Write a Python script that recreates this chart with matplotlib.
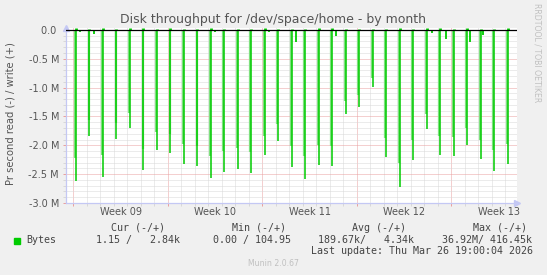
import matplotlib
matplotlib.use("Agg")
import matplotlib.pyplot as plt
from matplotlib.patches import Rectangle
from matplotlib.ticker import MultipleLocator
import numpy as np

# daily backup spikes: day index (days after first week boundary) and read depth (MB/s, negative side)
spike_day = [0, 1, 2, 3, 4, 5, 6, 7, 8, 9, 10, 11, 12, 13, 14, 15, 16,
             17, 18, 19, 20, 21, 22, 23, 24, 25, 26, 27, 28, 29, 30, 31, 32]
spike_read = [2.62, 1.84, 2.55, 1.89, 1.70, 2.43, 2.08, 2.13, 2.32, 2.36, 2.57,
              2.46, 2.41, 2.48, 2.17, 1.92, 2.37, 2.58, 2.34, 2.36, 1.45, 1.33,
              0.99, 2.21, 2.72, 2.25, 1.72, 2.17, 2.19, 1.99, 2.24, 2.44, 2.32]
spike_write = [0.03, 0.01, 0.03, 0.01, 0.03, 0.03, 0.02, 0.03, 0.02, 0.02, 0.03,
               0.02, 0.02, 0.02, 0.03, 0.01, 0.02, 0.02, 0.03, 0.03, 0.02, 0.02,
               0.01, 0.02, 0.03, 0.02, 0.03, 0.03, 0.02, 0.03, 0.02, 0.02, 0.03]
spike_hour = 4.5

# smaller read bursts during the day
dip_day = [0.50, 1.53, 10.5, 14.5, 16.53, 19.44, 26.55, 27.61, 29.4, 30.37]
dip_read = [0.04, 0.075, 0.03, 0.03, 0.21, 0.10, 0.06, 0.15, 0.21, 0.08]

week_names = ["Week 09", "Week 10", "Week 11", "Week 12", "Week 13"]
week_start = [0, 7, 14, 21, 28]

y_ticks = [0.0, -0.5, -1.0, -1.5, -2.0, -2.5, -3.0]
y_labels = ["0.0 ", "-0.5 M", "-1.0 M", "-1.5 M", "-2.0 M", "-2.5 M", "-3.0 M"]

W, H = 547, 275
green = "#00cc00"
light_green = "#7ee07e"
axis_col = "#c4c8f4"
major_col = "#eaa0a0"
minor_col = "#d8d8d8"

fig = plt.figure(figsize=(W / 100, H / 100), dpi=100, facecolor="#f0f0f0")
ax = fig.add_axes([66 / W, 1 - 203 / H, (517 - 66) / W, (203 - 28) / H])
ax.set_facecolor("white")

ax.set_xlim(-0.54, 32.87)
ax.set_ylim(-3.0, 0.033)

# grid
ax.xaxis.set_major_locator(MultipleLocator(7))
ax.xaxis.set_minor_locator(MultipleLocator(1))
ax.yaxis.set_minor_locator(MultipleLocator(0.1))
ax.set_yticks(y_ticks)
ax.set_yticklabels(y_labels)
ax.set_xticklabels([])
ax.grid(which="minor", color=minor_col, lw=0.72, ls=(0, (1, 1)))
ax.grid(which="major", color=major_col, lw=0.72, ls=(0, (1, 1)))
ax.set_axisbelow(True)

ax.tick_params(axis="both", which="major", length=2, width=0.72, color=major_col,
               labelsize=7, labelcolor="#555555")
ax.tick_params(axis="both", which="minor", length=2, width=0.72, color=minor_col)
ax.tick_params(axis="y", which="major", pad=3)

for s in ["top", "right"]:
    ax.spines[s].set_visible(False)
for s in ["left", "bottom"]:
    ax.spines[s].set_color(axis_col)
    ax.spines[s].set_linewidth(0.9)

# arrows at the axis ends
ax.plot([0], [1.0], marker="^", ms=5, color=axis_col, transform=ax.transAxes,
        clip_on=False, zorder=5)
ax.plot([1.0], [0], marker=">", ms=5, color=axis_col, transform=ax.transAxes,
        clip_on=False, zorder=5)

# data
sx = np.array(spike_day) + spike_hour / 24
sr = -np.array(spike_read)
ax.vlines(sx - 0.06, 0, sr * 0.85, color=light_green, lw=1.6, zorder=3)
ax.vlines(sx, 0, sr, color=green, lw=1.1, zorder=4)
ax.vlines(sx, 0, np.array(spike_write), color=green, lw=2.0, zorder=4)
ax.vlines(np.array(dip_day), 0, -np.array(dip_read), color=green, lw=1.3, zorder=4)
ax.axhline(0, color="black", lw=0.9, zorder=6)

# week labels
for name, start in zip(week_names, week_start):
    ax.text(start + 3.5, -0.05, name, transform=ax.get_xaxis_transform(),
            ha="center", va="center", fontsize=7, color="#555555")

# title and labels
fig.text(273 / W, 1 - 20 / H, "Disk throughput for /dev/space/home - by month",
         ha="center", va="center", fontsize=9, color="#555555")
fig.text(11 / W, 1 - 113.5 / H, "Pr second read (-) / write (+)", rotation=90,
         ha="center", va="center", fontsize=7.2, color="#555555")
fig.text(537 / W, 1 - 53 / H, "RRDTOOL / TOBI OETIKER", rotation=270,
         ha="center", va="center", fontsize=5.6, color="#c0c0c0")

# legend block
mono = dict(family="DejaVu Sans Mono", fontsize=7.2, color="#444444", va="center")
fig.add_artist(Rectangle((14 / W, 1 - 243.5 / H), 5.5 / W, 5.5 / H,
                         transform=fig.transFigure, color=green))
headers = ["Cur (-/+)", "Min (-/+)", "Avg (-/+)", "Max (-/+)"]
header_x = [111, 232.3, 352.3, 473]
values = ["1.15 /   2.84k", "0.00 / 104.95", "189.67k/   4.34k", "36.92M/ 416.45k"]
value_x = [95.7, 213.3, 318.3, 442.3]
for t, x in zip(headers, header_x):
    fig.text(x / W, 1 - 228 / H, t, ha="left", **mono)
fig.text(26.7 / W, 1 - 240 / H, "Bytes", ha="left", **mono)
for t, x in zip(values, value_x):
    fig.text(x / W, 1 - 240 / H, t, ha="left", **mono)
fig.text(533 / W, 1 - 251 / H, "Last update: Thu Mar 26 19:00:04 2026", ha="right", **mono)
fig.text(273 / W, 1 - 264 / H, "Munin 2.0.67", ha="center", va="center",
         fontsize=5.6, color="#c0c0c0")

fig.savefig("out.png", dpi=100, facecolor=fig.get_facecolor())
